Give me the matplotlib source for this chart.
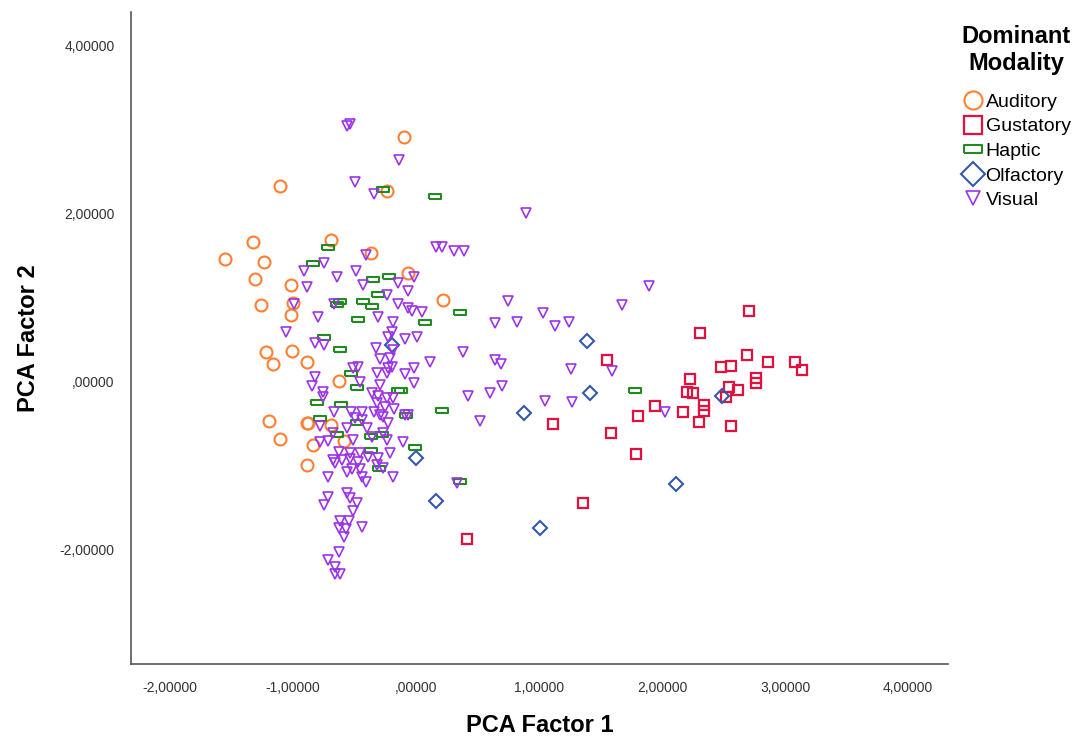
import numpy as np
import matplotlib.pyplot as plt
from matplotlib.lines import Line2D
from matplotlib.ticker import FuncFormatter

plt.rcParams['font.family'] = ['Liberation Sans', 'DejaVu Sans']

# PCA scores per dominant modality
auditory_x = [-0.10, -1.11, -0.24, -1.33, -0.69, -1.55, -1.24, -0.37, -1.31, -1.02,
              -0.07, 0.22, -1.26, -1.00, -1.02, -1.22, -1.16, -1.01, -0.89, -0.63,
              -1.20, -0.89, -0.88, -0.69, -1.11, -0.59, -0.84, -0.89]
auditory_y = [2.92, 2.33, 2.27, 1.67, 1.69, 1.46, 1.43, 1.54, 1.23, 1.15,
              1.30, 0.98, 0.92, 0.94, 0.80, 0.36, 0.21, 0.37, 0.24, 0.01,
              -0.46, -0.49, -0.49, -0.51, -0.68, -0.70, -0.75, -0.99]

gustatory_x = [2.71, 2.31, 1.55, 2.69, 2.48, 2.56, 2.86, 3.08, 3.14, 2.23,
               2.76, 2.76, 2.20, 2.25, 2.54, 2.62, 2.52, 2.34, 2.34, 1.94,
               2.17, 1.80, 2.30, 2.56, 1.58, 1.79, 1.36, 1.11, 0.41]
gustatory_y = [0.85, 0.58, 0.26, 0.32, 0.18, 0.19, 0.24, 0.24, 0.14, 0.04,
               0.05, -0.01, -0.12, -0.13, -0.06, -0.10, -0.18, -0.27, -0.35, -0.29,
               -0.36, -0.40, -0.48, -0.52, -0.61, -0.86, -1.44, -0.50, -1.87]

haptic_x = [-0.27, 0.15, -0.72, -0.84, -0.35, -0.22, -0.31, -0.62, -0.64, -0.43,
            -0.36, -0.47, 0.07, 0.36, -0.75, -0.62, -0.53, -0.48, -0.15, -0.12,
            -0.81, -0.61, 0.21, -0.08, -0.78, -0.48, -0.64, -0.37, -0.28, -0.01,
            -0.37, -0.30, 0.36, 1.78]
haptic_y = [2.30, 2.21, 1.61, 1.42, 1.23, 1.26, 1.05, 0.96, 0.93, 0.96,
            0.90, 0.75, 0.71, 0.83, 0.54, 0.39, 0.11, -0.06, -0.10, -0.10,
            -0.24, -0.26, -0.33, -0.39, -0.43, -0.48, -0.62, -0.64, -0.62, -0.77,
            -0.81, -1.02, -1.18, -0.10]

olfactory_x = [1.39, 1.41, 0.88, 0.00, 0.16, -0.20, 1.01, 2.11, 2.49]
olfactory_y = [0.49, -0.13, -0.37, -0.90, -1.42, 0.44, -1.74, -1.21, -0.17]

visual_x = [-0.56, -0.54, -0.14, -0.50, -0.34, 0.89, 0.16, 0.21, 0.31, 0.39,
            -0.41, -0.75, -0.91, -0.49, -0.64, -0.43, -0.15, -0.02, -0.07, -0.89,
            1.89, 0.75, 1.67, 0.05, 1.03, 0.64, 0.82, 1.24, 1.13, 0.38,
            0.11, 0.64, 0.69, 1.26, 1.59, 0.42, 0.60, 0.70, 1.05, 1.27,
            0.52, 2.02, -0.99, -0.67, -0.24, -0.15, -0.07, -0.03, -0.80, -0.31,
            -0.19, -0.20, -1.06, -0.82, -0.75, -0.23, -0.09, 0.01, -0.33, -0.19,
            -0.29, -0.21, -0.47, -0.51, -0.23, -0.20, -0.09, -0.02, -0.32, -0.82,
            -0.85, -0.76, -0.76, -0.24, -0.02, -0.46, -0.29, -0.36, -0.31, -0.24,
            -0.19, -0.32, -0.25, -0.18, -0.34, -0.29, -0.27, -0.09, -0.07, -0.67,
            -0.53, -0.44, -0.23, -0.44, -0.40, -0.56, -0.68, -0.78, -0.72, -0.78,
            -0.36, -0.27, -0.24, -0.11, -0.51, -0.54, -0.46, -0.39, -0.31, -0.63,
            -0.60, -0.54, -0.47, -0.68, -0.21, -0.32, -0.27, -0.19, -0.44, -0.72,
            -0.56, -0.66, -0.52, -0.46, -0.56, -0.54, -0.48, -0.72, -0.75, -0.51,
            -0.62, -0.55, -0.63, -0.57, -0.44, -0.59, -0.63, -0.72, -0.66, -0.66,
            -0.62, 0.33, -0.50, -0.41]
visual_y = [3.05, 3.07, 2.64, 2.38, 2.24, 2.01, 1.61, 1.61, 1.56, 1.56,
            1.51, 1.42, 1.32, 1.32, 1.25, 1.15, 1.18, 1.25, 1.08, 1.13,
            1.14, 0.96, 0.92, 0.83, 0.82, 0.70, 0.71, 0.71, 0.67, 0.36,
            0.24, 0.26, 0.21, 0.15, 0.13, -0.17, -0.13, -0.05, -0.23, -0.24,
            -0.46, -0.36, 0.93, 0.93, 1.04, 0.93, 0.88, 0.85, 0.77, 0.77,
            0.71, 0.60, 0.60, 0.46, 0.44, 0.54, 0.51, 0.54, 0.40, 0.38,
            0.27, 0.29, 0.18, 0.17, 0.17, 0.18, 0.10, 0.17, 0.11, 0.06,
            -0.05, -0.12, -0.18, 0.11, -0.01, 0.00, -0.04, -0.13, -0.17, -0.19,
            -0.19, -0.25, -0.30, -0.32, -0.36, -0.39, -0.42, -0.39, -0.39, -0.36,
            -0.36, -0.36, -0.49, -0.45, -0.55, -0.55, -0.61, -0.52, -0.70, -0.71,
            -0.65, -0.61, -0.69, -0.71, -0.69, -0.85, -0.85, -0.89, -0.90, -0.83,
            -0.93, -0.92, -0.95, -0.93, -0.85, -0.99, -1.02, -1.13, -1.13, -1.13,
            -1.07, -0.96, -1.04, -1.04, -1.32, -1.38, -1.44, -1.37, -1.46, -1.54,
            -1.65, -1.65, -1.74, -1.75, -1.73, -1.85, -2.02, -2.12, -2.20, -2.29,
            -2.29, -1.20, -0.43, -1.19]

# haptic marker: flat rectangle
rect = [(-1, -0.45), (1, -0.45), (1, 0.45), (-1, 0.45), (-1, -0.45)]

groups = [
    ('Auditory', auditory_x, auditory_y, 'o', '#FF7F33', 8.6, 13, 1.5),
    ('Gustatory', gustatory_x, gustatory_y, 's', '#E3103F', 7.9, 13, 1.6),
    ('Haptic', haptic_x, haptic_y, rect, '#218A21', 8.0, 13, 1.5),
    ('Olfactory', olfactory_x, olfactory_y, 'D', '#3558AD', 7.6, 12, 1.5),
    ('Visual', visual_x, visual_y, 'v', '#9B33E6', 6.8, 10, 1.2),
]

fig = plt.figure(figsize=(10.75, 7.39), dpi=100)
ax = fig.add_axes([0.122, 0.1015, 0.76, 0.8825])

handles = []
for name, xs, ys, mk, col, ms, lms, lw in groups:
    ax.plot(xs, ys, linestyle='none', marker=mk, markersize=ms, mfc='none',
            mec=col, mew=lw)
    handles.append(Line2D([], [], linestyle='none', marker=mk, markersize=lms,
                          mfc='none', mec=col, mew=lw))

ax.set_xlim(-2.317, 4.325)
ax.set_ylim(-3.357, 4.405)
ax.set_xticks([-2, -1, 0, 1, 2, 3, 4])
ax.set_yticks([-2, 0, 2, 4])


def spss_fmt(v, pos):
    s = '%.5f' % v
    s = s.replace('.', ',')
    if s.startswith('0,'):
        s = s[1:]
    return s


ax.xaxis.set_major_formatter(FuncFormatter(spss_fmt))
ax.yaxis.set_major_formatter(FuncFormatter(spss_fmt))
ax.tick_params(length=0, labelsize=10, colors='#333333')
ax.tick_params(axis='x', pad=12)
ax.tick_params(axis='y', pad=12)

for side in ['top', 'right']:
    ax.spines[side].set_visible(False)
for side in ['left', 'bottom']:
    ax.spines[side].set_color('#555555')
    ax.spines[side].set_linewidth(1.2)

ax.set_xlabel('PCA Factor 1', fontsize=17, fontweight='bold', labelpad=14)
ax.set_ylabel('PCA Factor 2', fontsize=17, fontweight='bold', labelpad=14)

leg = ax.legend(handles, [g[0] for g in groups], loc='upper left',
                bbox_to_anchor=(1.0, 1.0), frameon=False, fontsize=14,
                title='Dominant\nModality', handletextpad=0.1,
                labelspacing=0.36, handlelength=1.1, borderaxespad=0.3)
leg.get_title().set_fontsize(17)
leg.get_title().set_fontweight('bold')
leg.get_title().set_multialignment('center')
leg._legend_box.sep = 13  # gap between title and entries, points

fig.savefig('out.png', dpi=100)
